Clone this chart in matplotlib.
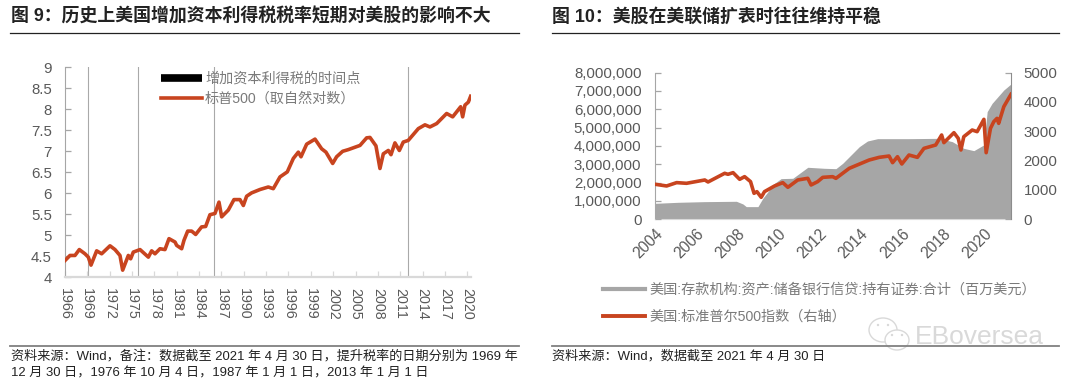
import matplotlib
matplotlib.use("Agg")
import matplotlib.pyplot as plt
from matplotlib.lines import Line2D
from matplotlib.patches import Circle, Ellipse
from matplotlib.ticker import FuncFormatter
from matplotlib.transforms import ScaledTranslation

plt.rcParams["font.family"] = ["Liberation Sans", "Noto Sans CJK SC", "DejaVu Sans"]

W, H = 1080, 383

# 图 9 数据
sp_log_years = [
    1966.0, 1966.67, 1967.34, 1967.92, 1968.68, 1969.13, 1969.49, 1970.25, 1970.92, 1972.04,
    1972.71, 1973.38, 1973.74, 1974.5, 1974.81, 1975.17, 1976.07, 1977.19, 1977.63, 1978.08,
    1978.75, 1979.42, 1979.96, 1980.77, 1980.99, 1981.66, 1981.97, 1982.47, 1983.0, 1983.54,
    1984.34, 1984.88, 1985.46, 1986.13, 1986.67, 1987.03, 1987.92, 1988.68, 1989.49, 1989.94,
    1990.38, 1991.05, 1992.17, 1993.29, 1993.96, 1994.86, 1995.84, 1996.65, 1997.32, 1997.68,
    1998.44, 1999.56, 2000.45, 2001.03, 2001.93, 2002.46, 2003.27, 2004.03, 2005.6, 2006.49,
    2006.94, 2007.74, 2008.28, 2008.73, 2009.4, 2009.76, 2010.29, 2010.88, 2011.41, 2012.08,
    2013.43, 2014.32, 2014.99, 2015.89, 2017.23, 2018.04, 2019.11, 2019.38, 2019.69, 2020.14,
    2020.45,
]
sp_log_values = [
    4.40, 4.52, 4.52, 4.66, 4.56, 4.48, 4.29, 4.63, 4.56, 4.75,
    4.66, 4.52, 4.17, 4.52, 4.44, 4.60, 4.66, 4.48, 4.63, 4.56,
    4.68, 4.66, 4.92, 4.84, 4.76, 4.68, 4.88, 5.10, 5.10, 5.02,
    5.20, 5.21, 5.49, 5.52, 5.79, 5.44, 5.60, 5.85, 5.85, 5.71,
    5.93, 6.01, 6.09, 6.15, 6.11, 6.39, 6.51, 6.83, 6.98, 6.87,
    7.17, 7.29, 7.06, 6.98, 6.71, 6.87, 7.00, 7.04, 7.14, 7.32,
    7.33, 7.13, 6.59, 6.94, 7.02, 6.92, 7.20, 7.02, 7.22, 7.26,
    7.54, 7.63, 7.58, 7.66, 7.90, 7.82, 8.06, 7.82, 8.10, 8.17,
    8.31,
]
tax_years = [1969.05, 1975.84, 1986.04, 2012.08]
left_xticks = list(range(1966, 2021, 3))
left_yticks = [4, 4.5, 5, 5.5, 6, 6.5, 7, 7.5, 8, 8.5, 9]

# 图 10 数据
securities_years = [
    2004.0, 2005.12, 2006.41, 2007.95, 2008.27, 2008.43, 2009.0, 2009.24, 2009.81, 2010.13,
    2010.7, 2011.43, 2012.24, 2012.8, 2013.13, 2013.94, 2014.34, 2014.83, 2016.36, 2017.82,
    2018.47, 2019.03, 2019.52, 2020.0, 2020.17, 2020.41, 2020.98, 2021.33,
]
securities_values = [
    872000, 927000, 963000, 982000, 836000, 691000, 691000, 1145000, 1963000, 2218000,
    2236000, 2836000, 2781000, 2761000, 3052000, 3961000, 4270000, 4397000, 4397000, 4415000,
    4234000, 3870000, 3743000, 4052000, 5869000, 6324000, 7051000, 7380000,
]
spx_years = [
    2004.0, 2004.55, 2005.04, 2005.52, 2006.41, 2006.57, 2007.38, 2007.54, 2007.79, 2008.11,
    2008.35, 2008.64, 2008.81, 2008.95, 2009.16, 2009.32, 2009.81, 2010.21, 2010.46, 2010.94,
    2011.43, 2011.59, 2011.91, 2012.16, 2012.64, 2012.8, 2013.45, 2014.42, 2014.91, 2015.39,
    2015.56, 2015.8, 2016.01, 2016.36, 2016.77, 2017.09, 2017.66, 2017.95, 2018.06, 2018.55,
    2018.76, 2018.89, 2019.03, 2019.44, 2019.68, 2020.01, 2020.12, 2020.33, 2020.49, 2020.65,
    2020.73, 2020.98, 2021.33,
]
spx_values = [
    1193, 1136, 1250, 1227, 1340, 1272, 1568, 1534, 1590, 1363,
    1454, 1284, 886, 943, 750, 943, 1136, 1250, 1091, 1340,
    1397, 1170, 1284, 1430, 1453, 1396, 1737, 2021, 2112, 2157,
    1930, 2134, 1885, 2191, 2112, 2418, 2532, 2873, 2612, 2952,
    2759, 2362, 2816, 3043, 2987, 3407, 2271, 3100, 3327, 3441,
    3270, 3839, 4260,
]
right_xticks = list(range(2004, 2021, 2))
right_yticks_l = list(range(0, 8000001, 1000000))
right_yticks_r = [0, 1000, 2000, 3000, 4000, 5000]

RED = "#C8441F"
AREA = "#A6A6A6"
TICK = "#595959"
AXIS = "#A6A6A6"
LEGEND_TEXT = "#7A7A7A"


def px_axes(fig, x0, x1, y_top, y_bottom):
    return fig.add_axes([x0 / W, 1 - y_bottom / H, (x1 - x0) / W, (y_bottom - y_top) / H])


def px_text(fig, x, y, s, **kw):
    fig.text(x / W, 1 - y / H, s, **kw)


def px_rule(fig, x0, x1, y, color, lw):
    fig.add_artist(Line2D([x0 / W, x1 / W], [1 - y / H, 1 - y / H], color=color, lw=lw))


fig = plt.figure(figsize=(W / 100, H / 100), dpi=100, facecolor="white")

# 标题与分割线
title_kw = dict(fontsize=12.9, fontweight="bold", color="#222222", va="center", ha="left")
px_text(fig, 11, 17, "图 9：历史上美国增加资本利得税税率短期对美股的影响不大", **title_kw)
px_text(fig, 552, 17, "图 10：美股在美联储扩表时往往维持平稳", **title_kw)
px_rule(fig, 10, 519, 32.5, "#222222", 0.9)
px_rule(fig, 552, 1059, 32.5, "#222222", 0.9)
px_rule(fig, 10, 519, 345.5, "#808080", 1.3)
px_rule(fig, 552, 1059, 345.5, "#808080", 1.3)

# 来源
note_kw = dict(fontsize=9.45, color="#222222", va="center", ha="left")
px_text(fig, 11, 356, "资料来源：Wind，备注：数据截至 2021 年 4 月 30 日，提升税率的日期分别为 1969 年", **note_kw)
px_text(fig, 11, 373, "12 月 30 日，1976 年 10 月 4 日，1987 年 1 月 1 日，2013 年 1 月 1 日", **note_kw)
px_text(fig, 552, 356, "资料来源：Wind，数据截至 2021 年 4 月 30 日", **note_kw)

# 左图
ax = px_axes(fig, 65, 471, 67.3, 277.3)
for yr in tax_years:
    ax.axvline(yr, color="#A9A9A9", lw=0.8, zorder=1)
ax.plot(sp_log_years, sp_log_values, color=RED, lw=2.6, solid_joinstyle="round", zorder=3)
ax.set_xlim(1966, 2020.5)
ax.set_ylim(4, 9)
ax.set_xticks(left_xticks)
ax.set_xticklabels([str(y) for y in left_xticks], rotation=270, fontsize=10.3, color=TICK)
ax.set_yticks(left_yticks)
ax.set_yticklabels([f"{v:g}" for v in left_yticks], fontsize=10.8, color=TICK)
ax.tick_params(axis="y", direction="in", length=4, width=0.9, color=AXIS, pad=9.5)
ax.tick_params(axis="x", direction="in", length=4, width=0.9, color="#D9D9D9", pad=7.5)
for s in ["top", "right"]:
    ax.spines[s].set_visible(False)
ax.spines["left"].set_color(AXIS)
ax.spines["bottom"].set_color("#D9D9D9")
ax.spines["bottom"].set_linewidth(1.6)
handles = [
    Line2D([], [], color="black", lw=5.5, solid_capstyle="butt"),
    Line2D([], [], color=RED, lw=2.6),
]
leg = ax.legend(
    handles,
    ["增加资本利得税的时间点", "标普500（取自然对数）"],
    loc="upper left",
    bbox_to_anchor=((157 - 65) / 406, 0.995),
    frameon=False,
    fontsize=10.2,
    labelcolor=LEGEND_TEXT,
    handlelength=2.95,
    handletextpad=0.2,
    labelspacing=0.4,
    borderaxespad=0,
    borderpad=0.25,
)

# 右图
ax_l = px_axes(fig, 655.3, 1011, 72.6, 219.3)
ax_l.fill_between(securities_years, securities_values, color=AREA, lw=0, zorder=2)
ax_l.set_xlim(2004, 2021.33)
ax_l.set_ylim(0, 8000000)
ax_l.set_xticks(right_xticks)
ax_l.set_xticklabels(
    [str(y) for y in right_xticks],
    rotation=45,
    ha="right",
    rotation_mode="anchor",
    fontsize=11.2,
    color=TICK,
)
shift = ScaledTranslation(-4 / 100, 0, fig.dpi_scale_trans)
for lab in ax_l.get_xticklabels():
    lab.set_transform(lab.get_transform() + shift)
ax_l.set_yticks(right_yticks_l)
ax_l.yaxis.set_major_formatter(FuncFormatter(lambda v, _: f"{int(v):,}"))
ax_l.tick_params(axis="y", direction="in", length=4, width=0.9, color=AXIS, pad=10, labelsize=10.8, labelcolor=TICK)
ax_l.tick_params(axis="x", length=0, pad=5)
for s in ["top", "right"]:
    ax_l.spines[s].set_visible(False)
ax_l.spines["left"].set_color(AXIS)
ax_l.spines["bottom"].set_color("#D9D9D9")
ax_l.set_axisbelow(False)

ax_r = ax_l.twinx()
ax_r.plot(spx_years, spx_values, color=RED, lw=2.6, solid_joinstyle="round", zorder=3)
ax_r.set_ylim(0, 5000)
ax_r.set_yticks(right_yticks_r)
ax_r.tick_params(axis="y", direction="in", length=4, width=0.9, color=AXIS, pad=9, labelsize=10.8, labelcolor=TICK)
for s in ["top", "left"]:
    ax_r.spines[s].set_visible(False)
ax_r.spines["right"].set_color("#8C8C8C")
ax_r.spines["bottom"].set_visible(False)

handles_r = [Line2D([], [], color=AREA, lw=3.0), Line2D([], [], color=RED, lw=2.8)]
fig.legend(
    handles_r,
    ["美国:存款机构:资产:储备银行信贷:持有证券:合计（百万美元）", "美国:标准普尔500指数（右轴）"],
    loc="upper left",
    bbox_to_anchor=(603 / W, 1 - 283 / H),
    frameon=False,
    fontsize=10.2,
    labelcolor=LEGEND_TEXT,
    handlelength=2.95,
    handletextpad=0.3,
    labelspacing=0.9,
    borderaxespad=0,
    borderpad=0,
)

# 水印
mark = "#D9D9D9"
overlay = fig.add_axes([0, 0, 1, 1], facecolor="none")
overlay.set_xlim(0, W)
overlay.set_ylim(H, 0)
overlay.axis("off")
overlay.add_patch(Ellipse((883, 330), 28, 24, facecolor="white", ec=mark, lw=1.0))
overlay.add_patch(Ellipse((897, 340), 24, 20, facecolor="white", ec=mark, lw=1.0))
for cx, cy in [(878, 325), (888, 325), (892, 335), (902, 335)]:
    overlay.add_patch(Circle((cx, cy), 1.2, color=mark, lw=0))
overlay.text(915, 337, "EBoversea", fontsize=19, color=mark, va="center", ha="left", family="Liberation Sans")

fig.savefig("out.png", dpi=100, facecolor="white")
